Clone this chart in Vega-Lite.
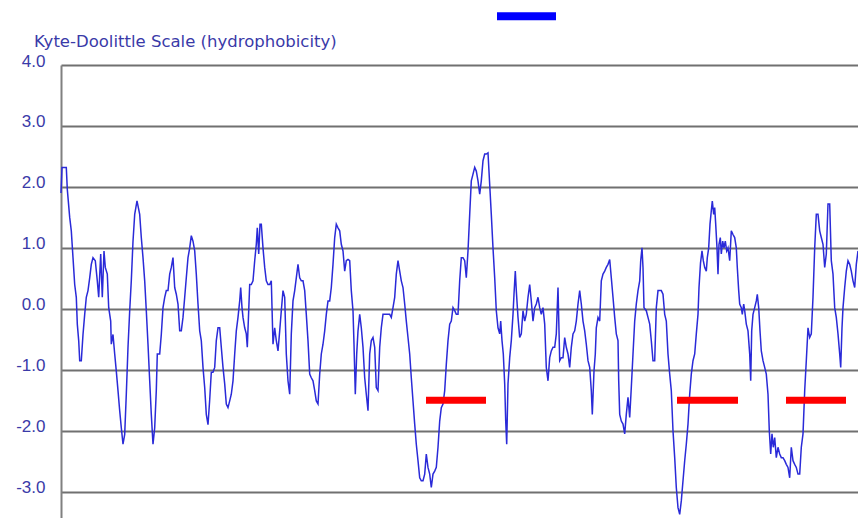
{
  "$schema": "https://vega.github.io/schema/vega-lite/v6.json",
  "autosize": {"type": "none"},
  "padding": {"left": 61, "top": 65, "right": 0, "bottom": 0},
  "width": 797,
  "height": 453,
  "background": "white",
  "config": {"view": {"stroke": null}},
  "title": {"text": "Kyte-Doolittle Scale (hydrophobicity)", "anchor": "start", "frame": "group", "font": "DejaVu Sans", "fontSize": 16.5, "fontWeight": "normal", "color": "#3a3aa8", "dx": -27, "dy": 42, "offset": 4},
  "datasets": {
    "profile": [
      {"pos":0,"kd":1.9},{"pos":1,"kd":2.32},{"pos":5.3,"kd":2.32},{"pos":6.3,"kd":1.96},{"pos":8.7,"kd":1.5},{"pos":10.3,"kd":1.28},{"pos":12,"kd":0.84},{"pos":13.7,"kd":0.4},{"pos":15.3,"kd":0.19},{"pos":16.3,"kd":-0.25},{"pos":17.7,"kd":-0.52},{"pos":18.7,"kd":-0.85},{"pos":20.3,"kd":-0.85},{"pos":22,"kd":-0.42},{"pos":23.7,"kd":-0.09},{"pos":25.3,"kd":0.19},{"pos":27,"kd":0.3},{"pos":28.7,"kd":0.51},{"pos":30.3,"kd":0.73},{"pos":32,"kd":0.84},{"pos":34.3,"kd":0.79},{"pos":36.3,"kd":0.46},{"pos":37.7,"kd":0.19},{"pos":39.7,"kd":0.9},{"pos":41.3,"kd":0.19},{"pos":43,"kd":0.95},{"pos":44.3,"kd":0.68},{"pos":46.3,"kd":0.57},{"pos":47.7,"kd":0.02},{"pos":49.7,"kd":-0.2},{"pos":50.3,"kd":-0.58},{"pos":52,"kd":-0.42},{"pos":53.7,"kd":-0.74},{"pos":55.3,"kd":-1.02},{"pos":57,"kd":-1.34},{"pos":58.7,"kd":-1.67},{"pos":60.3,"kd":-1.95},{"pos":62,"kd":-2.22},{"pos":63.7,"kd":-2.06},{"pos":65.3,"kd":-1.4},{"pos":67,"kd":-0.63},{"pos":68.7,"kd":-0.03},{"pos":70.3,"kd":0.46},{"pos":72,"kd":1.11},{"pos":73.7,"kd":1.55},{"pos":76,"kd":1.77},{"pos":78.7,"kd":1.55},{"pos":80.3,"kd":1.17},{"pos":82,"kd":0.84},{"pos":83.7,"kd":0.46},{"pos":85.3,"kd":-0.03},{"pos":87,"kd":-0.58},{"pos":88.7,"kd":-1.18},{"pos":90.3,"kd":-1.73},{"pos":92,"kd":-2.22},{"pos":93.7,"kd":-1.95},{"pos":95.3,"kd":-1.34},{"pos":96.3,"kd":-0.74},{"pos":98.7,"kd":-0.74},{"pos":100.3,"kd":-0.42},{"pos":102,"kd":0.02},{"pos":103.7,"kd":0.19},{"pos":105.3,"kd":0.3},{"pos":107,"kd":0.3},{"pos":108.7,"kd":0.57},{"pos":110.3,"kd":0.68},{"pos":112,"kd":0.84},{"pos":113.7,"kd":0.35},{"pos":115.3,"kd":0.24},{"pos":117,"kd":0.08},{"pos":118.7,"kd":-0.36},{"pos":120.3,"kd":-0.36},{"pos":122,"kd":-0.14},{"pos":123.7,"kd":0.19},{"pos":125.3,"kd":0.51},{"pos":127,"kd":0.84},{"pos":128.7,"kd":1.0},{"pos":130.3,"kd":1.2},{"pos":132,"kd":1.11},{"pos":133.7,"kd":0.95},{"pos":135.3,"kd":0.57},{"pos":137,"kd":0.08},{"pos":138.7,"kd":-0.36},{"pos":140.3,"kd":-0.52},{"pos":142,"kd":-0.96},{"pos":143.7,"kd":-1.29},{"pos":145.3,"kd":-1.73},{"pos":147,"kd":-1.9},{"pos":148.7,"kd":-1.49},{"pos":150.3,"kd":-1.04},{"pos":152,"kd":-1.04},{"pos":153.7,"kd":-0.96},{"pos":155.3,"kd":-0.52},{"pos":157,"kd":-0.31},
      {"pos":158.7,"kd":-0.31},{"pos":160.3,"kd":-0.63},{"pos":162,"kd":-0.96},{"pos":163.7,"kd":-1.23},{"pos":165.3,"kd":-1.56},{"pos":167,"kd":-1.62},{"pos":168.7,"kd":-1.51},{"pos":170.3,"kd":-1.4},{"pos":172,"kd":-1.18},{"pos":173.7,"kd":-0.74},{"pos":175.3,"kd":-0.36},{"pos":177,"kd":-0.14},{"pos":178.7,"kd":0.13},{"pos":179.7,"kd":0.35},{"pos":181,"kd":0.02},{"pos":182,"kd":-0.14},{"pos":183.7,"kd":-0.31},{"pos":185.3,"kd":-0.41},{"pos":186.3,"kd":-0.63},{"pos":187.7,"kd":-0.03},{"pos":188.7,"kd":0.4},{"pos":190.3,"kd":0.4},{"pos":192,"kd":0.46},{"pos":193.7,"kd":0.79},{"pos":195.3,"kd":1.06},{"pos":196.3,"kd":1.33},{"pos":197.7,"kd":0.9},{"pos":199,"kd":1.39},{"pos":200.3,"kd":1.39},{"pos":202,"kd":1.0},{"pos":203.7,"kd":0.68},{"pos":205.3,"kd":0.46},{"pos":207,"kd":0.4},{"pos":208.7,"kd":0.4},{"pos":210.3,"kd":0.46},{"pos":212,"kd":-0.58},{"pos":213.7,"kd":-0.31},{"pos":215.3,"kd":-0.52},{"pos":217,"kd":-0.69},{"pos":218.7,"kd":-0.36},{"pos":220.3,"kd":-0.03},{"pos":222,"kd":0.3},{"pos":223.7,"kd":0.19},{"pos":225.3,"kd":-0.74},{"pos":227,"kd":-1.18},{"pos":228.7,"kd":-1.4},{"pos":230.3,"kd":-0.41},{"pos":232,"kd":0.13},{"pos":233.7,"kd":0.3},{"pos":235.3,"kd":0.51},{"pos":237,"kd":0.73},{"pos":238.7,"kd":0.51},{"pos":240.3,"kd":0.46},{"pos":242,"kd":0.46},{"pos":243.7,"kd":0.3},{"pos":245.3,"kd":-0.09},{"pos":247,"kd":-0.52},{"pos":248.7,"kd":-1.07},{"pos":250.3,"kd":-1.13},{"pos":252,"kd":-1.18},{"pos":253.7,"kd":-1.34},{"pos":255.3,"kd":-1.51},{"pos":257,"kd":-1.56},{"pos":258.7,"kd":-1.07},{"pos":260.3,"kd":-0.74},{"pos":262,"kd":-0.58},{"pos":263.7,"kd":-0.36},{"pos":265.3,"kd":-0.09},{"pos":267,"kd":0.13},{"pos":268.7,"kd":0.13},{"pos":270.3,"kd":0.35},{"pos":272,"kd":0.73},{"pos":273.7,"kd":1.17},{"pos":275.3,"kd":1.39},{"pos":277,"kd":1.33},{"pos":278.7,"kd":1.28},{"pos":280.3,"kd":1.06},{"pos":282,"kd":0.95},{"pos":283.7,"kd":0.62},{"pos":285.3,"kd":0.79},{"pos":287,"kd":0.81},{"pos":288.7,"kd":0.79},{"pos":290.3,"kd":0.3},{"pos":292,"kd":-0.03},{"pos":293,"kd":-0.58},{"pos":294.3,"kd":-1.4},{"pos":295.7,"kd":-0.74},{"pos":297,"kd":-0.36},{"pos":298.7,"kd":-0.09},{"pos":300.3,"kd":-0.31},{"pos":302,"kd":-0.63},{"pos":303.7,"kd":-1.13},{"pos":305.3,"kd":-1.4},{"pos":307,"kd":-1.67},{"pos":308.7,"kd":-0.74},{"pos":310.3,"kd":-0.52},{"pos":312,"kd":-0.47},{"pos":313.7,"kd":-0.63},{"pos":315.3,"kd":-1.29},
      {"pos":317,"kd":-1.34},{"pos":318.7,"kd":-0.63},{"pos":320.3,"kd":-0.31},{"pos":322,"kd":-0.09},{"pos":323.7,"kd":-0.09},{"pos":325.3,"kd":-0.09},{"pos":327,"kd":-0.09},{"pos":328.7,"kd":-0.09},{"pos":330.3,"kd":-0.14},{"pos":332,"kd":0.02},{"pos":333.7,"kd":0.19},{"pos":335.3,"kd":0.57},{"pos":337,"kd":0.79},{"pos":338.7,"kd":0.62},{"pos":340.3,"kd":0.46},{"pos":342,"kd":0.35},{"pos":343.7,"kd":0.08},{"pos":345.3,"kd":-0.2},{"pos":347,"kd":-0.47},{"pos":348.7,"kd":-0.74},{"pos":350.3,"kd":-1.13},{"pos":352,"kd":-1.51},{"pos":353.7,"kd":-1.89},{"pos":355.3,"kd":-2.22},{"pos":357,"kd":-2.49},{"pos":358.7,"kd":-2.77},{"pos":360.3,"kd":-2.82},{"pos":362,"kd":-2.82},{"pos":363.7,"kd":-2.71},{"pos":365.3,"kd":-2.38},{"pos":367,"kd":-2.6},{"pos":368.7,"kd":-2.71},{"pos":370.3,"kd":-2.93},{"pos":372,"kd":-2.71},{"pos":373.7,"kd":-2.66},{"pos":375.3,"kd":-2.6},{"pos":377,"kd":-2.27},{"pos":378.7,"kd":-1.84},{"pos":380.3,"kd":-1.62},{"pos":382,"kd":-1.56},{"pos":383.7,"kd":-1.34},{"pos":385.3,"kd":-0.91},{"pos":387,"kd":-0.52},{"pos":388.7,"kd":-0.25},{"pos":390.3,"kd":-0.2},{"pos":392,"kd":0.02},{"pos":393.7,"kd":-0.03},{"pos":395.3,"kd":-0.09},{"pos":397,"kd":-0.09},{"pos":398.7,"kd":0.46},{"pos":400.3,"kd":0.84},{"pos":402,"kd":0.84},{"pos":403.7,"kd":0.79},{"pos":405.3,"kd":0.51},{"pos":407,"kd":0.95},{"pos":408.7,"kd":1.55},{"pos":410.3,"kd":2.1},{"pos":412,"kd":2.21},{"pos":413.7,"kd":2.32},{"pos":415.3,"kd":2.26},{"pos":417,"kd":2.1},{"pos":418.7,"kd":1.88},{"pos":420.3,"kd":2.1},{"pos":422,"kd":2.43},{"pos":423.7,"kd":2.54},{"pos":425.3,"kd":2.54},{"pos":427,"kd":2.56},{"pos":428.7,"kd":2.04},{"pos":430.3,"kd":1.55},{"pos":432,"kd":1.0},{"pos":433.7,"kd":0.51},{"pos":435.3,"kd":-0.03},{"pos":437,"kd":-0.31},{"pos":438.7,"kd":-0.41},{"pos":439.7,"kd":-0.2},{"pos":441,"kd":-0.52},{"pos":442.3,"kd":-0.74},{"pos":443.7,"kd":-1.23},{"pos":444.7,"kd":-1.84},{"pos":445.7,"kd":-2.22},{"pos":447,"kd":-1.23},{"pos":448.7,"kd":-0.8},{"pos":450.3,"kd":-0.52},{"pos":452,"kd":-0.09},{"pos":453,"kd":0.24},{"pos":454.3,"kd":0.62},{"pos":455.3,"kd":0.3},{"pos":457,"kd":-0.14},{"pos":458.7,"kd":-0.47},{"pos":460.3,"kd":-0.41},{"pos":462,"kd":-0.03},{"pos":463.7,"kd":-0.2},{"pos":465.3,"kd":-0.09},{"pos":467,"kd":0.19},{"pos":468.7,"kd":0.4},{"pos":470.3,"kd":0.13},{"pos":472,"kd":-0.2},{"pos":473.7,"kd":0.02},{"pos":475.3,"kd":0.08},{"pos":477,"kd":0.19},
      {"pos":478.7,"kd":0.02},{"pos":480.3,"kd":-0.09},{"pos":482,"kd":0.02},{"pos":483.7,"kd":-0.25},{"pos":485.3,"kd":-0.96},{"pos":487,"kd":-1.18},{"pos":488.7,"kd":-0.8},{"pos":490.3,"kd":-0.69},{"pos":492,"kd":-0.63},{"pos":493.7,"kd":-0.63},{"pos":495.3,"kd":-0.41},{"pos":497,"kd":0.35},{"pos":498.7,"kd":-0.85},{"pos":500.3,"kd":-0.8},{"pos":502,"kd":-0.8},{"pos":503.7,"kd":-0.47},{"pos":505.3,"kd":-0.63},{"pos":507,"kd":-0.74},{"pos":508.7,"kd":-0.96},{"pos":510.3,"kd":-0.63},{"pos":512,"kd":-0.41},{"pos":513.7,"kd":-0.36},{"pos":515.3,"kd":-0.2},{"pos":517,"kd":0.08},{"pos":518.7,"kd":0.3},{"pos":520.3,"kd":0.08},{"pos":522,"kd":-0.2},{"pos":523.7,"kd":-0.36},{"pos":525.3,"kd":-0.58},{"pos":527,"kd":-0.85},{"pos":528.7,"kd":-0.96},{"pos":530.3,"kd":-1.34},{"pos":531.3,"kd":-1.73},{"pos":533,"kd":-1.02},{"pos":534.3,"kd":-0.74},{"pos":535.3,"kd":-0.31},{"pos":537,"kd":-0.14},{"pos":538.7,"kd":-0.2},{"pos":540.3,"kd":0.46},{"pos":542,"kd":0.57},{"pos":543.7,"kd":0.62},{"pos":545.3,"kd":0.68},{"pos":547,"kd":0.73},{"pos":548.7,"kd":0.81},{"pos":550.3,"kd":0.51},{"pos":552,"kd":0.19},{"pos":553.7,"kd":-0.14},{"pos":555.3,"kd":-0.41},{"pos":557,"kd":-0.52},{"pos":557.7,"kd":-1.18},{"pos":558.7,"kd":-1.73},{"pos":560.3,"kd":-1.84},{"pos":562,"kd":-1.89},{"pos":563.7,"kd":-2.05},{"pos":565.3,"kd":-1.73},{"pos":567,"kd":-1.45},{"pos":568.7,"kd":-1.78},{"pos":570.3,"kd":-1.29},{"pos":572,"kd":-0.74},{"pos":573.7,"kd":-0.2},{"pos":575.3,"kd":0.08},{"pos":577,"kd":0.3},{"pos":578.7,"kd":0.46},{"pos":579.7,"kd":0.79},{"pos":581,"kd":1.0},{"pos":582,"kd":0.68},{"pos":583,"kd":0.02},{"pos":585.3,"kd":-0.03},{"pos":587,"kd":-0.14},{"pos":588.7,"kd":-0.25},{"pos":590.3,"kd":-0.52},{"pos":592,"kd":-0.85},{"pos":593.7,"kd":-0.85},{"pos":595.3,"kd":0.02},{"pos":597,"kd":0.3},{"pos":598.7,"kd":0.3},{"pos":600.3,"kd":0.3},{"pos":602,"kd":0.24},{"pos":603.7,"kd":-0.09},{"pos":605.3,"kd":-0.2},{"pos":607,"kd":-0.74},{"pos":608.7,"kd":-1.07},{"pos":610.3,"kd":-1.34},{"pos":612,"kd":-2.0},{"pos":613.7,"kd":-2.44},{"pos":615.3,"kd":-2.93},{"pos":617,"kd":-3.26},{"pos":618.7,"kd":-3.37},{"pos":620.3,"kd":-3.15},{"pos":622,"kd":-2.82},{"pos":623.7,"kd":-2.49},{"pos":625.3,"kd":-2.22},{"pos":627,"kd":-1.89},{"pos":628.7,"kd":-1.4},{"pos":630.3,"kd":-1.07},{"pos":632,"kd":-0.85},{"pos":633.7,"kd":-0.74},{"pos":635.3,"kd":-0.41},{"pos":637,"kd":-0.09},{"pos":638,"kd":0.35},{"pos":639.5,"kd":0.75},
      {"pos":641,"kd":0.95},{"pos":642.3,"kd":0.79},{"pos":643.7,"kd":0.68},{"pos":645.3,"kd":0.62},{"pos":646.3,"kd":0.84},{"pos":647.7,"kd":1.0},{"pos":649,"kd":1.39},{"pos":650.3,"kd":1.61},{"pos":651.3,"kd":1.77},{"pos":652.7,"kd":1.55},{"pos":653.7,"kd":1.66},{"pos":654.7,"kd":1.39},{"pos":656,"kd":1.0},{"pos":657,"kd":0.57},{"pos":658,"kd":1.06},{"pos":659.3,"kd":1.17},{"pos":660.3,"kd":0.9},{"pos":661.7,"kd":1.11},{"pos":663,"kd":1.0},{"pos":664.3,"kd":1.11},{"pos":665.7,"kd":0.95},{"pos":667,"kd":1.0},{"pos":668.7,"kd":0.79},{"pos":670.3,"kd":1.28},{"pos":672,"kd":1.22},{"pos":673.7,"kd":1.17},{"pos":675.3,"kd":1.0},{"pos":676.3,"kd":0.68},{"pos":677.7,"kd":0.3},{"pos":678.7,"kd":0.08},{"pos":680.3,"kd":0.02},{"pos":681.3,"kd":-0.09},{"pos":682.7,"kd":0.08},{"pos":683.7,"kd":-0.03},{"pos":685.3,"kd":-0.25},{"pos":687,"kd":-0.36},{"pos":688.7,"kd":-0.74},{"pos":689.7,"kd":-1.18},{"pos":690.7,"kd":-0.36},{"pos":692,"kd":-0.09},{"pos":693.7,"kd":0.02},{"pos":695.3,"kd":0.13},{"pos":696.3,"kd":0.24},{"pos":697.7,"kd":0.02},{"pos":699,"kd":-0.36},{"pos":700.3,"kd":-0.69},{"pos":702,"kd":-0.85},{"pos":703.7,"kd":-0.96},{"pos":705.3,"kd":-1.07},{"pos":707,"kd":-1.4},{"pos":708.3,"kd":-2.0},{"pos":709.7,"kd":-2.38},{"pos":711,"kd":-2.05},{"pos":712.3,"kd":-2.27},{"pos":713.7,"kd":-2.11},{"pos":715.3,"kd":-2.44},{"pos":717,"kd":-2.27},{"pos":718.7,"kd":-2.38},{"pos":720.3,"kd":-2.44},{"pos":722,"kd":-2.44},{"pos":723.7,"kd":-2.49},{"pos":725.3,"kd":-2.55},{"pos":727,"kd":-2.6},{"pos":728.7,"kd":-2.77},{"pos":730.3,"kd":-2.27},{"pos":732,"kd":-2.49},{"pos":733.7,"kd":-2.55},{"pos":735.3,"kd":-2.6},{"pos":737,"kd":-2.71},{"pos":738.7,"kd":-2.71},{"pos":740.3,"kd":-2.27},{"pos":742,"kd":-2.05},{"pos":743.7,"kd":-1.34},{"pos":745.3,"kd":-0.85},{"pos":747,"kd":-0.31},{"pos":748.7,"kd":-0.47},{"pos":750.3,"kd":-0.41},{"pos":752,"kd":0.19},{"pos":753.7,"kd":1.0},{"pos":755.3,"kd":1.55},{"pos":757,"kd":1.55},{"pos":758.7,"kd":1.28},{"pos":760.3,"kd":1.17},{"pos":762,"kd":1.06},{"pos":763.7,"kd":0.68},{"pos":765.3,"kd":0.9},{"pos":767,"kd":1.72},{"pos":768.7,"kd":1.72},{"pos":770.3,"kd":0.79},{"pos":772,"kd":0.57},{"pos":773.7,"kd":0.02},{"pos":775.3,"kd":-0.14},{"pos":777,"kd":-0.41},{"pos":778.7,"kd":-0.74},{"pos":779.7,"kd":-0.96},{"pos":781,"kd":-0.31},{"pos":782,"kd":0.02},{"pos":783.7,"kd":0.35},{"pos":785.3,"kd":0.62},{"pos":787,"kd":0.79},{"pos":788.7,"kd":0.73},{"pos":790.3,"kd":0.62},{"pos":792,"kd":0.46},{"pos":793.7,"kd":0.35},{"pos":795.3,"kd":0.73},{"pos":797,"kd":0.95}
    ],
    "red": [
      {"pos": 365, "pos2": 425, "kd": -1.5},
      {"pos": 616, "pos2": 677, "kd": -1.5},
      {"pos": 725, "pos2": 785, "kd": -1.5}
    ],
    "blue": [
      {"pos": 436, "pos2": 495, "kd": 4.8}
    ]
  },
  "encoding": {
    "x": {"field": "pos", "type": "quantitative", "scale": {"domain": [0, 797], "nice": false, "zero": false}, "axis": null},
    "y": {"field": "kd", "type": "quantitative", "scale": {"domain": [-3.43, 4.0], "nice": false, "zero": false},
      "axis": {"title": null, "values": [-3, -2, -1, 0, 1, 2, 3, 4], "labelExpr": "(datum.value < 0 ? '-' : '') + format(abs(datum.value), '.1f')", "grid": true, "gridColor": "#707070", "gridWidth": 2, "gridOpacity": 1, "domain": true, "domainColor": "#808080", "domainWidth": 2, "ticks": false, "tickSize": 0, "labelPadding": 16, "labelOffset": -4, "labelFont": "Liberation Sans", "labelFontSize": 17, "labelColor": "#3a3aa8", "labelOverlap": false, "labelBound": false}}
  },
  "layer": [
    {"data": {"name": "profile"}, "mark": {"type": "line", "color": "#2a2ad8", "strokeWidth": 1.5}},
    {"data": {"name": "red"}, "mark": {"type": "rule", "color": "#ff0000", "strokeWidth": 7, "strokeCap": "butt"}, "encoding": {"x2": {"field": "pos2"}}},
    {"data": {"name": "blue"}, "mark": {"type": "rule", "color": "#0000ff", "strokeWidth": 8, "strokeCap": "butt", "clip": false}, "encoding": {"x2": {"field": "pos2"}}}
  ]
}
